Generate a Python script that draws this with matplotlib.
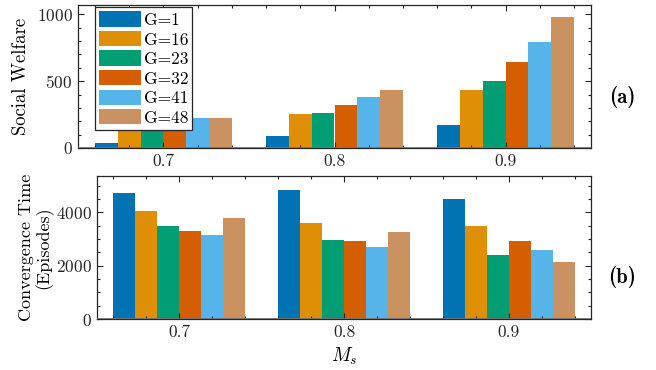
import numpy as np
import matplotlib
matplotlib.use("Agg")
import matplotlib.pyplot as plt
from matplotlib.ticker import MultipleLocator

plt.rcParams["font.family"] = "serif"
plt.rcParams["font.serif"] = ["cmr10", "DejaVu Serif"]
plt.rcParams["mathtext.fontset"] = "cm"
plt.rcParams["axes.formatter.use_mathtext"] = True
plt.rcParams["axes.unicode_minus"] = False

# data
ms = [0.7, 0.8, 0.9]
groups = ["G=1", "G=16", "G=23", "G=32", "G=41", "G=48"]
welfare = [
    [38, 90, 170],      # G=1
    [160, 255, 436],    # G=16
    [185, 265, 504],    # G=23
    [205, 323, 644],    # G=32
    [223, 381, 792],    # G=41
    [223, 431, 977],    # G=48
]
conv_time = [
    [4750, 4863, 4513],
    [4038, 3588, 3488],
    [3500, 2950, 2400],
    [3288, 2913, 2913],
    [3150, 2700, 2588],
    [3775, 3250, 2138],
]
colors = ["#0173B2", "#DE8F05", "#029E73", "#D55E00", "#56B4E9", "#CA9161"]

fig = plt.figure(figsize=(6.56, 3.70), dpi=100)
ax1 = fig.add_axes([78/656, 1-148/370, (591-78)/656, (148-5)/370])
ax2 = fig.add_axes([97/656, 1-319/370, (591-97)/656, (319-176)/370])

group_w = 0.08
bw = group_w / len(groups)
x = np.array(ms)

def draw(ax, data):
    for i, (vals, c, lab) in enumerate(zip(data, colors, groups)):
        off = -group_w/2 + bw*(i+0.5)
        ax.bar(x + off, vals, width=bw, color=c, label=lab, edgecolor="none")
    ax.axhline(0, color="0.45", lw=2, zorder=3)
    ax.set_xlim(0.65, 0.95)
    ax.set_xticks(ms)
    ax.set_xticklabels(["0.7", "0.8", "0.9"])
    ax.xaxis.set_minor_locator(MultipleLocator(0.02))
    ax.tick_params(which="both", direction="in", top=True, right=True,
                   labelsize=12.5, colors="#262626", width=0.8)
    ax.tick_params(which="major", length=4, pad=4)
    ax.tick_params(which="minor", length=2.5)
    for s in ax.spines.values():
        s.set_color("#262626")
        s.set_linewidth(0.9)

draw(ax1, welfare)
ax1.set_ylim(0, 1070)
ax1.set_yticks([0, 500, 1000])
ax1.yaxis.set_minor_locator(MultipleLocator(100))
ax1.set_ylabel("Social Welfare", fontsize=13.5)
ax1.yaxis.set_label_coords((30-78)/513, 0.5)

draw(ax2, conv_time)
ax2.set_ylim(0, 5370)
ax2.set_yticks([0, 2000, 4000])
ax2.yaxis.set_minor_locator(MultipleLocator(500))
ax2.set_ylabel("Convergence Time\n(Episodes)", fontsize=13, linespacing=1.0)
ax2.yaxis.set_label_coords((53-97)/494, 0.5)
ax2.set_xlabel(r"$M_s$", fontsize=14, labelpad=4)

leg = ax1.legend(loc="upper left", bbox_to_anchor=(95/656, 1-7/370),
                 bbox_transform=fig.transFigure, borderaxespad=0,
                 fontsize=12.5, handlelength=2.4, handleheight=0.98,
                 labelspacing=0.17, handletextpad=0.15, borderpad=0.25,
                 fancybox=False, framealpha=1, edgecolor="#262626")
leg.get_frame().set_linewidth(0.9)

fig.text(622/656, 1-97/370, "(a)", fontsize=15, family=["cmb10", "DejaVu Serif"],
         ha="center", va="center")
fig.text(622/656, 1-277/370, "(b)", fontsize=15, family=["cmb10", "DejaVu Serif"],
         ha="center", va="center")

fig.savefig("out.png", dpi=100)
